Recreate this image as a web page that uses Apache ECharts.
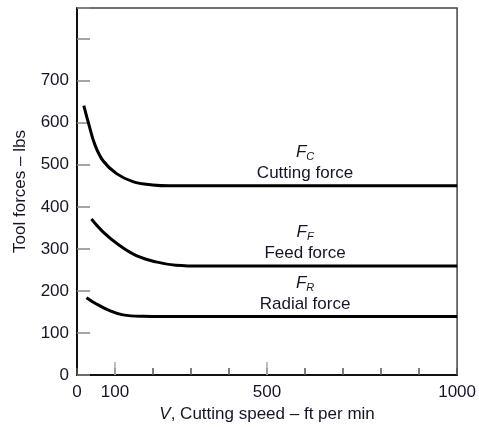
<!DOCTYPE html>
<html>
<head>
<meta charset="utf-8">
<script src="https://cdn.jsdelivr.net/npm/echarts@6/dist/echarts.min.js"></script>
<style>html,body{margin:0;padding:0;background:#fff}#c{width:479px;height:428px}</style>
</head>
<body>
<div id="c"></div>
<script>
// Cutting speed V (ft/min) and forces (lbs)
var cuttingV = [18, 30, 47, 69, 104, 147, 199, 243, 300, 1000];
var cuttingF = [641, 600, 548, 509, 479, 460, 452, 450, 450, 450];
var feedV = [38, 69, 112, 156, 208, 260, 330, 1000];
var feedF = [371, 340, 308, 284, 269, 261, 259, 259];
var radialV = [25, 51, 86, 121, 173, 230, 1000];
var radialF = [184, 169, 153, 143, 139.5, 139, 139];
var xLabelValues = [0, 100, 500, 1000];
var xLongTicks = [100, 500];
var yLabelValues = [0, 100, 200, 300, 400, 500, 600, 700];
var labelV = 600;

function pairs(xs, ys) { return xs.map(function (x, i) { return [x, ys[i]]; }); }

var font = 'Liberation Sans, Arial, sans-serif';
var textColor = '#15152a';
var fs = 17;
var rich = {
  f: { fontFamily: font, fontStyle: 'italic', fontSize: fs, color: textColor },
  s: { fontFamily: font, fontStyle: 'italic', fontSize: 11, color: textColor, padding: [9, 0, 0, 0] },
  t: { fontFamily: font, fontSize: fs, color: textColor, lineHeight: 21 }
};

function curve(name, xs, ys, sub, text) {
  return {
    type: 'line', name: name, data: pairs(xs, ys), smooth: 0.4,
    symbol: 'none', lineStyle: { color: '#000', width: 3 }, z: 5,
    markPoint: {
      symbol: 'circle', symbolSize: 0, silent: true,
      data: [{ coord: [labelV, ys[ys.length - 1]] }],
      label: {
        show: true, position: 'inside', offset: [0, -23], align: 'center',
        formatter: '{f|F}{s|' + sub + '}\n{t|' + text + '}', rich: rich, lineHeight: 21
      }
    }
  };
}

var chart = echarts.init(document.getElementById('c'), null, { renderer: 'canvas' });
chart.setOption({
  animation: false,
  grid: { left: 77, right: 19, top: 8, bottom: 51, show: true, borderColor: '#444', borderWidth: 1.5 },
  xAxis: [{
    type: 'value', min: 0, max: 1000, interval: 100,
    name: '{i|V}, Cutting speed – ft per min', nameLocation: 'middle', nameGap: 31,
    nameTextStyle: { fontFamily: font, fontSize: fs, color: textColor, rich: { i: { fontFamily: font, fontStyle: 'italic', fontSize: fs, color: textColor } } },
    axisLine: { show: true, lineStyle: { color: '#111', width: 2 } },
    axisTick: { show: true, inside: true, length: 7, lineStyle: { color: '#555', width: 1.5 } },
    axisLabel: { customValues: xLabelValues, formatter: function (v) { return String(v); }, fontFamily: font, fontSize: fs, color: textColor, margin: 9 },
    splitLine: { show: false }
  }, {
    type: 'value', min: 0, max: 1000, position: 'bottom', gridIndex: 0,
    axisLine: { show: false },
    axisTick: { show: true, inside: true, length: 13, customValues: xLongTicks, lineStyle: { color: '#aaa', width: 1.5 } },
    axisLabel: { show: false }, splitLine: { show: false }
  }],
  yAxis: {
    type: 'value', min: 0, max: 873, interval: 100,
    name: 'Tool forces – lbs', nameLocation: 'middle', nameGap: 48, nameRotate: 90,
    nameTextStyle: { fontFamily: font, fontSize: fs, color: textColor },
    axisLine: { show: true, lineStyle: { color: '#111', width: 2 } },
    axisTick: { show: true, inside: true, length: 13, lineStyle: { color: '#888', width: 1.5 } },
    axisLabel: { customValues: yLabelValues, fontFamily: font, fontSize: fs, color: textColor, margin: 8 },
    splitLine: { show: false }
  },
  series: [
    curve('Cutting force', cuttingV, cuttingF, 'C', 'Cutting force'),
    curve('Feed force', feedV, feedF, 'F', 'Feed force'),
    curve('Radial force', radialV, radialF, 'R', 'Radial force')
  ]
});
</script>
</body>
</html>
